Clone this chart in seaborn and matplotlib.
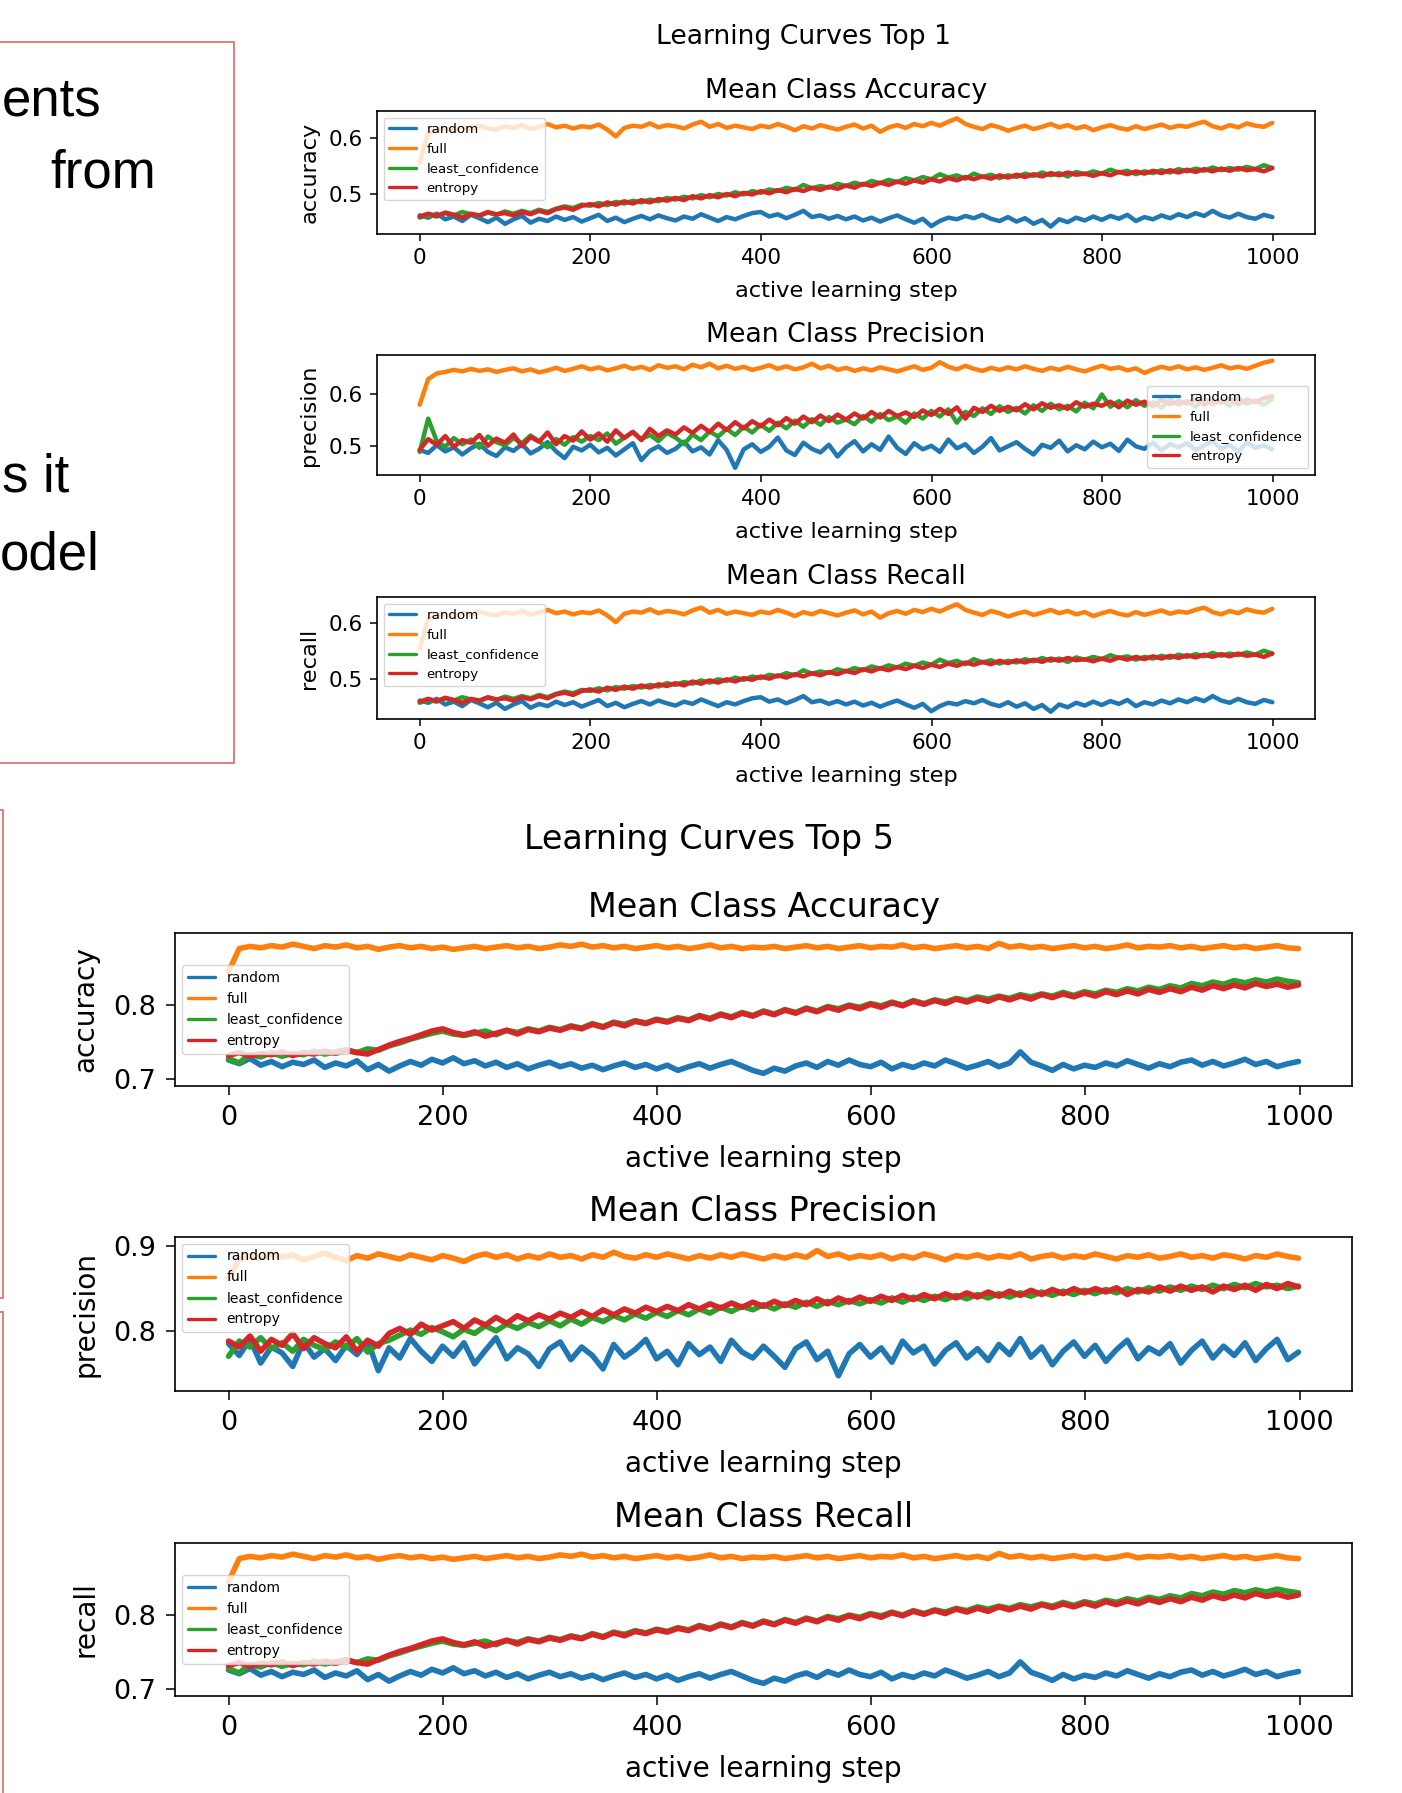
import matplotlib.pyplot as plt
import matplotlib.patches as patches
import numpy as np
import pandas as pd
import seaborn as sns

# Data (one value every ~10 active learning steps)
methods = ["random", "full", "least_confidence", "entropy"]
colors = ["#1f77b4", "#ff7f0e", "#2ca02c", "#d62728"]
steps = np.linspace(0, 999, 101)

# Top 1 - mean class accuracy (mean class recall shows the same curves)
acc1_random = [
    0.462, 0.458, 0.465, 0.455, 0.460, 0.452, 0.463, 0.457, 0.450, 0.458,
    0.447, 0.455, 0.461, 0.449, 0.456, 0.452, 0.460, 0.454, 0.459, 0.451,
    0.457, 0.463, 0.452, 0.458, 0.450, 0.456, 0.461, 0.455, 0.462, 0.457,
    0.453, 0.460, 0.456, 0.464, 0.458, 0.452, 0.459, 0.455, 0.461, 0.466,
    0.468, 0.460, 0.464, 0.457, 0.463, 0.470, 0.459, 0.462, 0.456, 0.461,
    0.455, 0.460, 0.453, 0.458, 0.451, 0.457, 0.462, 0.455, 0.449, 0.456,
    0.443, 0.452, 0.458, 0.455, 0.461, 0.457, 0.463, 0.456, 0.452, 0.459,
    0.451, 0.457, 0.447, 0.454, 0.442, 0.455, 0.450, 0.458, 0.453, 0.460,
    0.454, 0.461, 0.456, 0.463, 0.452, 0.459, 0.455, 0.462, 0.457, 0.464,
    0.459, 0.466, 0.461, 0.470, 0.462, 0.458, 0.465, 0.459, 0.456, 0.463, 0.459,
]
acc1_full = [
    0.555, 0.608, 0.613, 0.617, 0.612, 0.619, 0.615, 0.621, 0.616, 0.614,
    0.620, 0.617, 0.622, 0.615, 0.619, 0.624, 0.618, 0.621, 0.616, 0.620,
    0.618, 0.623, 0.614, 0.602, 0.617, 0.621, 0.619, 0.625, 0.618, 0.622,
    0.620, 0.616, 0.623, 0.628, 0.619, 0.624, 0.617, 0.621, 0.618, 0.615,
    0.621, 0.618, 0.624, 0.619, 0.613, 0.620, 0.616, 0.622, 0.618, 0.614,
    0.619, 0.623, 0.616, 0.621, 0.610, 0.618, 0.622, 0.617, 0.624, 0.620,
    0.626, 0.621, 0.628, 0.634, 0.624, 0.619, 0.615, 0.622, 0.618, 0.612,
    0.617, 0.621, 0.615, 0.619, 0.624, 0.618, 0.622, 0.616, 0.620, 0.613,
    0.618, 0.622, 0.617, 0.614, 0.620, 0.615, 0.619, 0.623, 0.617, 0.621,
    0.619, 0.624, 0.628, 0.620, 0.616, 0.622, 0.618, 0.625, 0.621, 0.619, 0.626,
]
acc1_lc = [
    0.458, 0.463, 0.460, 0.466, 0.462, 0.468, 0.464, 0.461, 0.467, 0.463,
    0.469, 0.465, 0.470, 0.466, 0.472, 0.468, 0.474, 0.478, 0.475, 0.481,
    0.479, 0.484, 0.480, 0.486, 0.483, 0.488, 0.485, 0.490, 0.487, 0.493,
    0.490, 0.495, 0.492, 0.498, 0.494, 0.500, 0.497, 0.503, 0.499, 0.505,
    0.502, 0.508, 0.505, 0.511, 0.507, 0.516, 0.510, 0.514, 0.511, 0.518,
    0.514, 0.520, 0.516, 0.523, 0.519, 0.525, 0.521, 0.528, 0.524, 0.530,
    0.526, 0.535, 0.529, 0.533, 0.527, 0.536, 0.530, 0.534, 0.528, 0.533,
    0.530, 0.536, 0.532, 0.538, 0.533, 0.537, 0.531, 0.539, 0.535, 0.540,
    0.536, 0.543, 0.538, 0.541, 0.535, 0.540, 0.537, 0.542, 0.538, 0.544,
    0.540, 0.545, 0.541, 0.547, 0.542, 0.546, 0.543, 0.548, 0.544, 0.551, 0.546,
]
acc1_entropy = [
    0.460, 0.465, 0.461, 0.467, 0.463, 0.458, 0.465, 0.462, 0.468, 0.464,
    0.466, 0.462, 0.468, 0.464, 0.470, 0.466, 0.473, 0.476, 0.472, 0.479,
    0.482, 0.478, 0.485, 0.481, 0.487, 0.483, 0.489, 0.485, 0.491, 0.488,
    0.493, 0.489, 0.496, 0.492, 0.498, 0.494, 0.500, 0.496, 0.502, 0.499,
    0.505, 0.501, 0.507, 0.503, 0.509, 0.505, 0.511, 0.507, 0.513, 0.509,
    0.515, 0.511, 0.518, 0.514, 0.520, 0.516, 0.522, 0.518, 0.524, 0.520,
    0.526, 0.522, 0.528, 0.524, 0.530, 0.526, 0.531, 0.527, 0.533, 0.529,
    0.534, 0.530, 0.535, 0.531, 0.537, 0.533, 0.538, 0.534, 0.536, 0.532,
    0.537, 0.533, 0.539, 0.535, 0.540, 0.536, 0.541, 0.537, 0.542, 0.538,
    0.543, 0.539, 0.544, 0.540, 0.545, 0.541, 0.546, 0.542, 0.544, 0.540, 0.546,
]

# Top 1 - mean class precision
prec1_random = [
    0.492, 0.486, 0.501, 0.489, 0.497, 0.483, 0.495, 0.504, 0.488, 0.480,
    0.497, 0.490, 0.503, 0.485, 0.494, 0.507, 0.489, 0.476, 0.498, 0.491,
    0.502, 0.487, 0.496, 0.481, 0.493, 0.505, 0.472, 0.490, 0.499, 0.486,
    0.494, 0.508, 0.489, 0.497, 0.483, 0.511, 0.492, 0.457, 0.493, 0.503,
    0.488, 0.498, 0.516, 0.491, 0.482, 0.506, 0.494, 0.487, 0.502, 0.479,
    0.497, 0.509, 0.489, 0.503, 0.492, 0.518, 0.496, 0.484, 0.505, 0.493,
    0.500, 0.488, 0.512, 0.495, 0.503, 0.486, 0.498, 0.515, 0.491, 0.499,
    0.507, 0.494, 0.483, 0.502, 0.496, 0.510, 0.489, 0.501, 0.493, 0.508,
    0.497, 0.504, 0.490, 0.512, 0.499, 0.494, 0.506, 0.491, 0.503, 0.497,
    0.505, 0.492, 0.500, 0.509, 0.494, 0.502, 0.488, 0.507, 0.496, 0.501, 0.493,
]
prec1_full = [
    0.580, 0.630, 0.641, 0.644, 0.648, 0.645, 0.650, 0.646, 0.649, 0.644,
    0.648, 0.651, 0.645, 0.649, 0.643, 0.647, 0.652, 0.646, 0.650, 0.655,
    0.649, 0.653, 0.647, 0.651, 0.656, 0.650, 0.654, 0.648, 0.657, 0.652,
    0.655, 0.649, 0.658, 0.653, 0.660, 0.651, 0.656, 0.650, 0.654, 0.648,
    0.652, 0.657, 0.650, 0.655, 0.649, 0.653, 0.660, 0.651, 0.656, 0.648,
    0.652, 0.646, 0.651, 0.647, 0.653, 0.649, 0.645, 0.650, 0.655, 0.648,
    0.652, 0.663, 0.654, 0.649, 0.656, 0.650, 0.646, 0.652, 0.648, 0.653,
    0.649, 0.655, 0.650, 0.646, 0.652, 0.648, 0.654, 0.649, 0.645, 0.651,
    0.656, 0.650, 0.653, 0.647, 0.651, 0.642, 0.649, 0.654, 0.650, 0.655,
    0.649, 0.653, 0.648, 0.652, 0.657, 0.651, 0.654, 0.650, 0.656, 0.662, 0.666,
]
prec1_lc = [
    0.488, 0.553, 0.509, 0.498, 0.515, 0.503, 0.512, 0.496, 0.518, 0.507,
    0.501, 0.515, 0.505, 0.520, 0.509, 0.497, 0.513, 0.502, 0.517, 0.508,
    0.519, 0.511, 0.524, 0.504, 0.516, 0.527, 0.513, 0.521, 0.509, 0.525,
    0.516, 0.503, 0.522, 0.511, 0.528, 0.518, 0.533, 0.521, 0.537, 0.526,
    0.541, 0.529, 0.545, 0.534, 0.549, 0.537, 0.552, 0.541, 0.556, 0.545,
    0.551, 0.542, 0.558, 0.547, 0.562, 0.550, 0.557, 0.545, 0.563, 0.553,
    0.568, 0.557, 0.571, 0.545, 0.566, 0.558, 0.573, 0.562, 0.577, 0.566,
    0.574, 0.563, 0.579, 0.568, 0.582, 0.571, 0.578, 0.567, 0.584, 0.573,
    0.600, 0.576, 0.587, 0.575, 0.589, 0.578, 0.585, 0.574, 0.590, 0.580,
    0.587, 0.576, 0.592, 0.581, 0.589, 0.578, 0.593, 0.582, 0.588, 0.580, 0.591,
]
prec1_entropy = [
    0.492, 0.513, 0.502, 0.519, 0.498, 0.511, 0.506, 0.521, 0.500, 0.514,
    0.506, 0.522, 0.499, 0.517, 0.508, 0.526, 0.503, 0.519, 0.510, 0.528,
    0.512, 0.524, 0.508, 0.530, 0.515, 0.527, 0.511, 0.533, 0.519, 0.530,
    0.522, 0.536, 0.525, 0.539, 0.527, 0.543, 0.531, 0.546, 0.534, 0.548,
    0.538, 0.551, 0.540, 0.554, 0.543, 0.557, 0.546, 0.559, 0.548, 0.561,
    0.551, 0.563, 0.553, 0.566, 0.555, 0.568, 0.558, 0.565, 0.556, 0.569,
    0.560, 0.572, 0.562, 0.575, 0.553, 0.574, 0.566, 0.578, 0.568, 0.576,
    0.569, 0.581, 0.571, 0.583, 0.574, 0.579, 0.572, 0.585, 0.576, 0.582,
    0.578, 0.586, 0.575, 0.588, 0.580, 0.586, 0.577, 0.590, 0.581, 0.587,
    0.583, 0.591, 0.580, 0.589, 0.584, 0.592, 0.581, 0.590, 0.585, 0.593, 0.597,
]

# Top 5 - mean class accuracy (mean class recall shows the same curves)
acc5_random = [
    0.726, 0.721, 0.728, 0.719, 0.724, 0.717, 0.723, 0.720, 0.726, 0.716,
    0.722, 0.718, 0.725, 0.713, 0.720, 0.711, 0.718, 0.724, 0.719, 0.727,
    0.722, 0.729, 0.721, 0.725, 0.718, 0.723, 0.716, 0.721, 0.714, 0.719,
    0.723, 0.717, 0.721, 0.715, 0.719, 0.713, 0.718, 0.722, 0.716, 0.720,
    0.714, 0.719, 0.712, 0.717, 0.721, 0.715, 0.720, 0.724, 0.718, 0.712,
    0.708, 0.715, 0.711, 0.718, 0.722, 0.716, 0.724, 0.719, 0.726, 0.720,
    0.717, 0.723, 0.714, 0.720, 0.716, 0.722, 0.718, 0.726, 0.721, 0.715,
    0.719, 0.724, 0.717, 0.722, 0.737, 0.723, 0.718, 0.712, 0.720, 0.714,
    0.719, 0.716, 0.722, 0.718, 0.725, 0.720, 0.715, 0.721, 0.717, 0.723,
    0.726, 0.719, 0.724, 0.718, 0.722, 0.727, 0.720, 0.724, 0.717, 0.721, 0.724,
]
acc5_full = [
    0.845, 0.876, 0.879, 0.877, 0.880, 0.878, 0.882, 0.879, 0.876, 0.880,
    0.878, 0.881, 0.877, 0.879, 0.875, 0.878, 0.880, 0.877, 0.879, 0.876,
    0.878, 0.875, 0.877, 0.879, 0.876, 0.878, 0.880, 0.877, 0.879, 0.876,
    0.878, 0.881, 0.879, 0.882, 0.878, 0.880, 0.877, 0.879, 0.876, 0.878,
    0.880, 0.877, 0.879, 0.876, 0.878, 0.881, 0.877, 0.879, 0.876, 0.878,
    0.877, 0.879, 0.876, 0.878, 0.880, 0.877, 0.879, 0.876, 0.878, 0.880,
    0.877, 0.879, 0.878, 0.881, 0.877, 0.879, 0.876, 0.878, 0.880, 0.877,
    0.879, 0.876, 0.883, 0.878, 0.880, 0.877, 0.879, 0.876, 0.878, 0.880,
    0.877, 0.879, 0.876, 0.878, 0.881, 0.877, 0.879, 0.878, 0.880, 0.877,
    0.879, 0.876, 0.878, 0.880, 0.877, 0.879, 0.876, 0.878, 0.880, 0.877, 0.876,
]
acc5_lc = [
    0.728, 0.722, 0.734, 0.730, 0.736, 0.731, 0.735, 0.733, 0.738, 0.734,
    0.737, 0.740, 0.736, 0.741, 0.739, 0.745, 0.749, 0.754, 0.758, 0.762,
    0.765, 0.761, 0.759, 0.762, 0.765, 0.760, 0.766, 0.763, 0.768, 0.765,
    0.770, 0.767, 0.772, 0.769, 0.775, 0.771, 0.777, 0.774, 0.779, 0.776,
    0.781, 0.778, 0.783, 0.780, 0.786, 0.782, 0.788, 0.784, 0.790, 0.786,
    0.792, 0.788, 0.794, 0.790, 0.796, 0.792, 0.798, 0.795, 0.800, 0.797,
    0.802, 0.799, 0.804, 0.800, 0.806, 0.802, 0.807, 0.804, 0.809, 0.806,
    0.811, 0.808, 0.812, 0.809, 0.814, 0.811, 0.815, 0.812, 0.817, 0.813,
    0.818, 0.815, 0.820, 0.817, 0.822, 0.819, 0.824, 0.821, 0.826, 0.823,
    0.829, 0.826, 0.831, 0.828, 0.833, 0.830, 0.834, 0.831, 0.835, 0.832, 0.830,
]
acc5_entropy = [
    0.732, 0.736, 0.731, 0.735, 0.733, 0.737, 0.732, 0.736, 0.734, 0.738,
    0.735, 0.739, 0.736, 0.734, 0.740, 0.746, 0.751, 0.755, 0.760, 0.765,
    0.768, 0.763, 0.760, 0.764, 0.758, 0.762, 0.766, 0.761, 0.767, 0.764,
    0.769, 0.766, 0.771, 0.768, 0.774, 0.770, 0.776, 0.772, 0.778, 0.775,
    0.780, 0.777, 0.782, 0.779, 0.785, 0.781, 0.787, 0.783, 0.789, 0.785,
    0.791, 0.787, 0.793, 0.789, 0.795, 0.791, 0.797, 0.793, 0.799, 0.795,
    0.801, 0.797, 0.803, 0.799, 0.805, 0.801, 0.806, 0.802, 0.808, 0.804,
    0.809, 0.805, 0.811, 0.807, 0.812, 0.808, 0.814, 0.810, 0.815, 0.811,
    0.816, 0.812, 0.818, 0.814, 0.819, 0.815, 0.821, 0.817, 0.822, 0.818,
    0.824, 0.820, 0.826, 0.822, 0.827, 0.823, 0.829, 0.825, 0.828, 0.824, 0.827,
]

# Top 5 - mean class precision
prec5_random = [
    0.785, 0.771, 0.790, 0.762, 0.781, 0.774, 0.758, 0.787, 0.769, 0.779,
    0.765, 0.783, 0.772, 0.788, 0.753, 0.780, 0.768, 0.791, 0.776, 0.764,
    0.782, 0.770, 0.786, 0.761, 0.777, 0.792, 0.767, 0.780, 0.773, 0.758,
    0.779, 0.787, 0.766, 0.781, 0.771, 0.755, 0.784, 0.769, 0.778, 0.790,
    0.767, 0.776, 0.760, 0.785, 0.772, 0.781, 0.764, 0.789, 0.775, 0.768,
    0.782, 0.770, 0.757, 0.779, 0.787, 0.766, 0.776, 0.747, 0.773, 0.784,
    0.769, 0.780, 0.763, 0.788, 0.774, 0.782, 0.761, 0.777, 0.786, 0.768,
    0.779, 0.765, 0.784, 0.772, 0.791, 0.769, 0.781, 0.760, 0.776, 0.787,
    0.770, 0.783, 0.764, 0.778, 0.789, 0.767, 0.780, 0.773, 0.785, 0.762,
    0.777, 0.788, 0.768, 0.782, 0.771, 0.786, 0.765, 0.779, 0.790, 0.766, 0.775,
]
prec5_full = [
    0.862, 0.885, 0.889, 0.886, 0.891, 0.887, 0.890, 0.884, 0.888, 0.892,
    0.887, 0.883, 0.889, 0.886, 0.891, 0.888, 0.885, 0.890, 0.887, 0.884,
    0.889, 0.886, 0.882, 0.888, 0.891, 0.887, 0.890, 0.885, 0.889, 0.886,
    0.891, 0.887, 0.889, 0.885, 0.890, 0.887, 0.893, 0.888, 0.886, 0.890,
    0.887, 0.891, 0.888, 0.885, 0.889, 0.886, 0.890, 0.887, 0.891, 0.888,
    0.885, 0.889, 0.886, 0.890, 0.887, 0.895, 0.888, 0.891, 0.886, 0.889,
    0.887, 0.890, 0.885, 0.889, 0.886, 0.891, 0.888, 0.884, 0.889, 0.887,
    0.890, 0.886, 0.889, 0.887, 0.891, 0.885, 0.888, 0.890, 0.886, 0.889,
    0.887, 0.891, 0.888, 0.885, 0.889, 0.887, 0.890, 0.886, 0.888, 0.891,
    0.887, 0.889, 0.886, 0.890, 0.888, 0.885, 0.889, 0.887, 0.891, 0.888, 0.886,
]
prec5_lc = [
    0.770, 0.788, 0.781, 0.792, 0.779, 0.786, 0.776, 0.790, 0.783, 0.778,
    0.787, 0.780, 0.791, 0.775, 0.785, 0.789, 0.795, 0.801, 0.796, 0.804,
    0.799, 0.793, 0.802, 0.797, 0.806, 0.800, 0.808, 0.803, 0.810, 0.805,
    0.812, 0.806, 0.814, 0.808, 0.816, 0.811, 0.818, 0.813, 0.820, 0.815,
    0.822, 0.817, 0.824, 0.819, 0.826, 0.821, 0.828, 0.823, 0.829, 0.825,
    0.831, 0.826, 0.832, 0.828, 0.834, 0.829, 0.835, 0.831, 0.836, 0.832,
    0.837, 0.833, 0.839, 0.834, 0.840, 0.836, 0.841, 0.837, 0.842, 0.838,
    0.843, 0.839, 0.844, 0.840, 0.845, 0.841, 0.846, 0.842, 0.847, 0.843,
    0.848, 0.844, 0.849, 0.845, 0.850, 0.846, 0.851, 0.847, 0.852, 0.848,
    0.853, 0.849, 0.854, 0.850, 0.855, 0.851, 0.856, 0.852, 0.854, 0.850, 0.853,
]
prec5_entropy = [
    0.788, 0.781, 0.794, 0.776, 0.790, 0.783, 0.797, 0.779, 0.792, 0.785,
    0.780, 0.793, 0.776, 0.789, 0.782, 0.797, 0.803, 0.796, 0.808, 0.801,
    0.806, 0.811, 0.803, 0.813, 0.807, 0.816, 0.809, 0.818, 0.812, 0.819,
    0.814, 0.821, 0.816, 0.823, 0.817, 0.825, 0.819, 0.826, 0.821, 0.828,
    0.823, 0.829, 0.824, 0.831, 0.826, 0.832, 0.827, 0.833, 0.828, 0.834,
    0.829, 0.835, 0.830, 0.836, 0.831, 0.838, 0.832, 0.839, 0.834, 0.840,
    0.835, 0.841, 0.836, 0.842, 0.837, 0.843, 0.838, 0.844, 0.839, 0.845,
    0.840, 0.846, 0.841, 0.847, 0.842, 0.848, 0.843, 0.849, 0.844, 0.850,
    0.845, 0.850, 0.846, 0.851, 0.843, 0.849, 0.846, 0.852, 0.847, 0.853,
    0.848, 0.852, 0.846, 0.853, 0.849, 0.854, 0.848, 0.855, 0.850, 0.856, 0.852,
]

# Slide text that is cut off at the left edge
slide_lines = ["ents", "from", "s it", "odel"]

W, H = 1402, 1793
sns.set_theme(style="ticks", rc={"axes.edgecolor": "black", "xtick.color": "black",
                                 "ytick.color": "black", "text.color": "black",
                                 "axes.labelcolor": "black", "axes.linewidth": 1.2})
plt.rcParams["font.family"] = ["DejaVu Sans"]

fig = plt.figure(figsize=(W / 100, H / 100), dpi=100)
fig.patch.set_facecolor("white")


def px_axes(left, top, right, bottom):
    # axes placed with pixel coordinates measured from the top-left corner
    return fig.add_axes([left / W, 1 - bottom / H, (right - left) / W, (bottom - top) / H])


def long_frame(series):
    parts = []
    for name, values in zip(methods, series):
        parts.append(pd.DataFrame({"step": steps, "value": values, "method": name}))
    return pd.concat(parts, ignore_index=True)


def draw_panel(ax, series, title, ylabel, yticks, ylim, legend_loc, s):
    sns.lineplot(data=long_frame(series), x="step", y="value", hue="method",
                 hue_order=methods, palette=colors, linewidth=s["lw"],
                 errorbar=None, ax=ax)
    ax.set_xlim(-50, 1049)
    ax.set_ylim(*ylim)
    ax.set_xticks([0, 200, 400, 600, 800, 1000])
    ax.set_yticks(yticks)
    ax.tick_params(labelsize=s["tick"], length=s["tlen"], width=1.1, pad=s["tpad"])
    ax.set_title(title, fontsize=s["title"], pad=s["title_pad"])
    ax.set_xlabel("active learning step", fontsize=s["label"], labelpad=s["xpad"])
    ax.set_ylabel(ylabel, fontsize=s["label"], labelpad=s["ypad"])
    sns.move_legend(ax, legend_loc, title=None, fontsize=s["legend"])
    for line in ax.get_legend().get_lines():
        line.set_linewidth(2.4)


top = dict(lw=3.2, tick=15.5, tlen=5, tpad=5, title=19.3, title_pad=9.5,
           label=16.2, xpad=9.5, ypad=7, legend=9.6, sup=19.2)
bottom = dict(lw=4.0, tick=19.5, tlen=6.5, tpad=7, title=24, title_pad=11.5,
              label=20.2, xpad=10, ypad=10, legend=10, sup=24)

# Learning Curves Top 1
fig.text(804 / W, 1 - 37 / H, "Learning Curves Top 1", ha="center", va="center",
         fontsize=top["sup"])
ax = px_axes(377, 111, 1315, 234)
draw_panel(ax, [acc1_random, acc1_full, acc1_lc, acc1_entropy], "Mean Class Accuracy",
           "accuracy", [0.5, 0.6], (0.429, 0.647), "upper left", top)
ax = px_axes(377, 355, 1315, 475)
draw_panel(ax, [prec1_random, prec1_full, prec1_lc, prec1_entropy], "Mean Class Precision",
           "precision", [0.5, 0.6], (0.443, 0.677), "lower right", top)
ax = px_axes(377, 597, 1315, 719)
draw_panel(ax, [acc1_random, acc1_full, acc1_lc, acc1_entropy], "Mean Class Recall",
           "recall", [0.5, 0.6], (0.429, 0.647), "upper left", top)

# Learning Curves Top 5
fig.text(709 / W, 1 - 840 / H, "Learning Curves Top 5", ha="center", va="center",
         fontsize=bottom["sup"])
ax = px_axes(175, 933, 1352, 1086)
draw_panel(ax, [acc5_random, acc5_full, acc5_lc, acc5_entropy], "Mean Class Accuracy",
           "accuracy", [0.7, 0.8], (0.691, 0.897), "center left", bottom)
ax = px_axes(175, 1237, 1352, 1391)
draw_panel(ax, [prec5_random, prec5_full, prec5_lc, prec5_entropy], "Mean Class Precision",
           "precision", [0.8, 0.9], (0.729, 0.911), "upper left", bottom)
ax = px_axes(175, 1543, 1352, 1696)
draw_panel(ax, [acc5_random, acc5_full, acc5_lc, acc5_entropy], "Mean Class Recall",
           "recall", [0.7, 0.8], (0.691, 0.897), "center left", bottom)

# Red slide boxes and the clipped slide text
box_color = "#e06666"
for x0, y0, x1, y1 in [(-10, 42, 234, 763), (-10, 810, 3, 1298), (-10, 1312, 3, 1810)]:
    fig.patches.append(patches.Rectangle((x0 / W, 1 - y1 / H), (x1 - x0) / W, (y1 - y0) / H,
                                         transform=fig.transFigure, fill=False,
                                         edgecolor=box_color, linewidth=1.2))
for text, x, y in zip(slide_lines, [2, 50, 2, 0], [115, 188, 492, 570]):
    fig.text(x / W, 1 - y / H, text, ha="left", va="baseline", fontsize=38,
             family="Liberation Sans")

fig.savefig("out.png", dpi=100)
